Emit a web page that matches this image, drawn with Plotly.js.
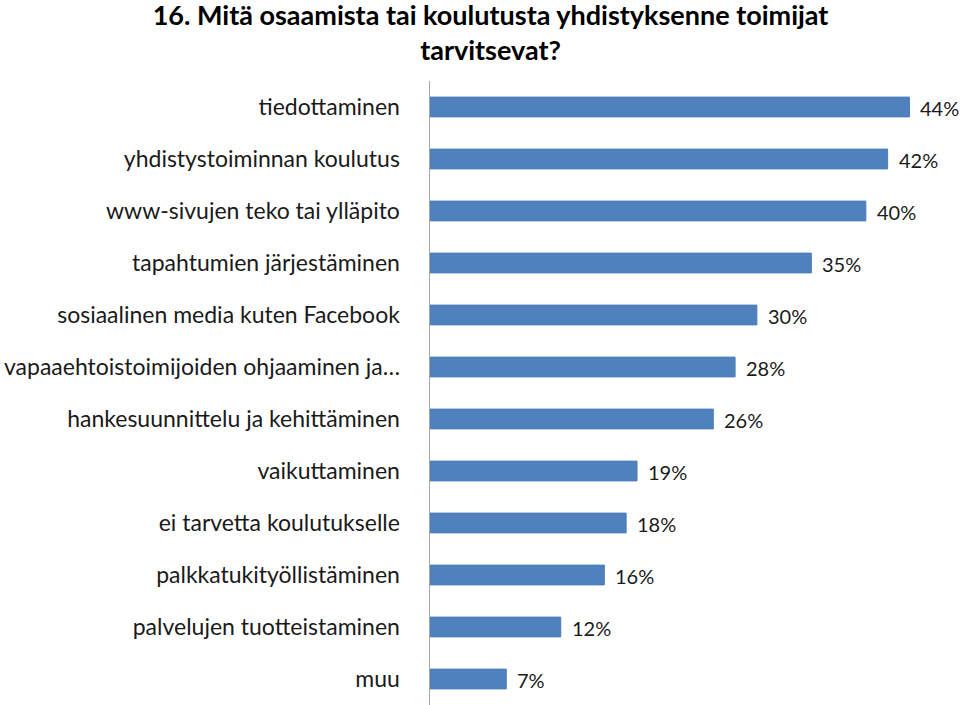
<!DOCTYPE html>
<html>
<head>
<meta charset="utf-8">
<script src="https://cdn.plot.ly/plotly-3.0.1.min.js"></script>
<style>html,body{margin:0;padding:0;background:#fff;}#chart{width:960px;height:705px;}</style>
</head>
<body>
<div id="chart"></div>
<script>
const categories = [
  "tiedottaminen",
  "yhdistystoiminnan koulutus",
  "www-sivujen teko tai ylläpito",
  "tapahtumien järjestäminen",
  "sosiaalinen media kuten Facebook",
  "vapaaehtoistoimijoiden ohjaaminen ja…",
  "hankesuunnittelu ja kehittäminen",
  "vaikuttaminen",
  "ei tarvetta koulutukselle",
  "palkkatukityöllistäminen",
  "palvelujen tuotteistaminen",
  "muu"
];
const values = [44, 42, 40, 35, 30, 28, 26, 19, 18, 16, 12, 7];
const valueLabels = values.map(v => v + "%");

const font = "Lato, 'Open Sans', sans-serif";

const trace = {
  type: "bar",
  orientation: "h",
  x: values,
  y: categories,
  marker: {color: "#4f81bd", line: {color: "#4a7ebb", width: 1}},
  width: 0.38,
  hoverinfo: "x+y"
};

const annotations = values.map((v, i) => ({
  x: v, y: categories[i], xref: "x", yref: "y",
  text: valueLabels[i], showarrow: false,
  xanchor: "left", xshift: 9, yshift: -1,
  font: {family: font, size: 20, color: "#1a1a1a"}
}));

const layout = {
  width: 960, height: 705,
  margin: {l: 430, r: 7, t: 81, b: 0, pad: 0},
  paper_bgcolor: "#fff", plot_bgcolor: "#fff",
  title: {
    text: "16. Mitä osaamista tai koulutusta yhdistyksenne toimijat<br>tarvitsevat?",
    font: {family: font, size: 27, color: "#000", weight: "bold"},
    x: 0.511, xanchor: "center", xref: "container",
    y: 0.965, yanchor: "middle", yref: "container",
    automargin: false
  },
  xaxis: {
    range: [0, 48], showgrid: false, zeroline: false,
    showticklabels: false, ticks: "", showline: false, fixedrange: true
  },
  yaxis: {
    autorange: "reversed", showgrid: false, zeroline: false,
    showline: true, linecolor: "#a6a6a6", linewidth: 1.5,
    ticks: "", ticklabelstandoff: 24,
    tickfont: {family: font, size: 23, color: "#1a1a1a"}
  },
  bargap: 0.62,
  showlegend: false,
  annotations: annotations
};

Plotly.newPlot("chart", [trace], layout, {displayModeBar: false, staticPlot: true});
</script>
</body>
</html>
